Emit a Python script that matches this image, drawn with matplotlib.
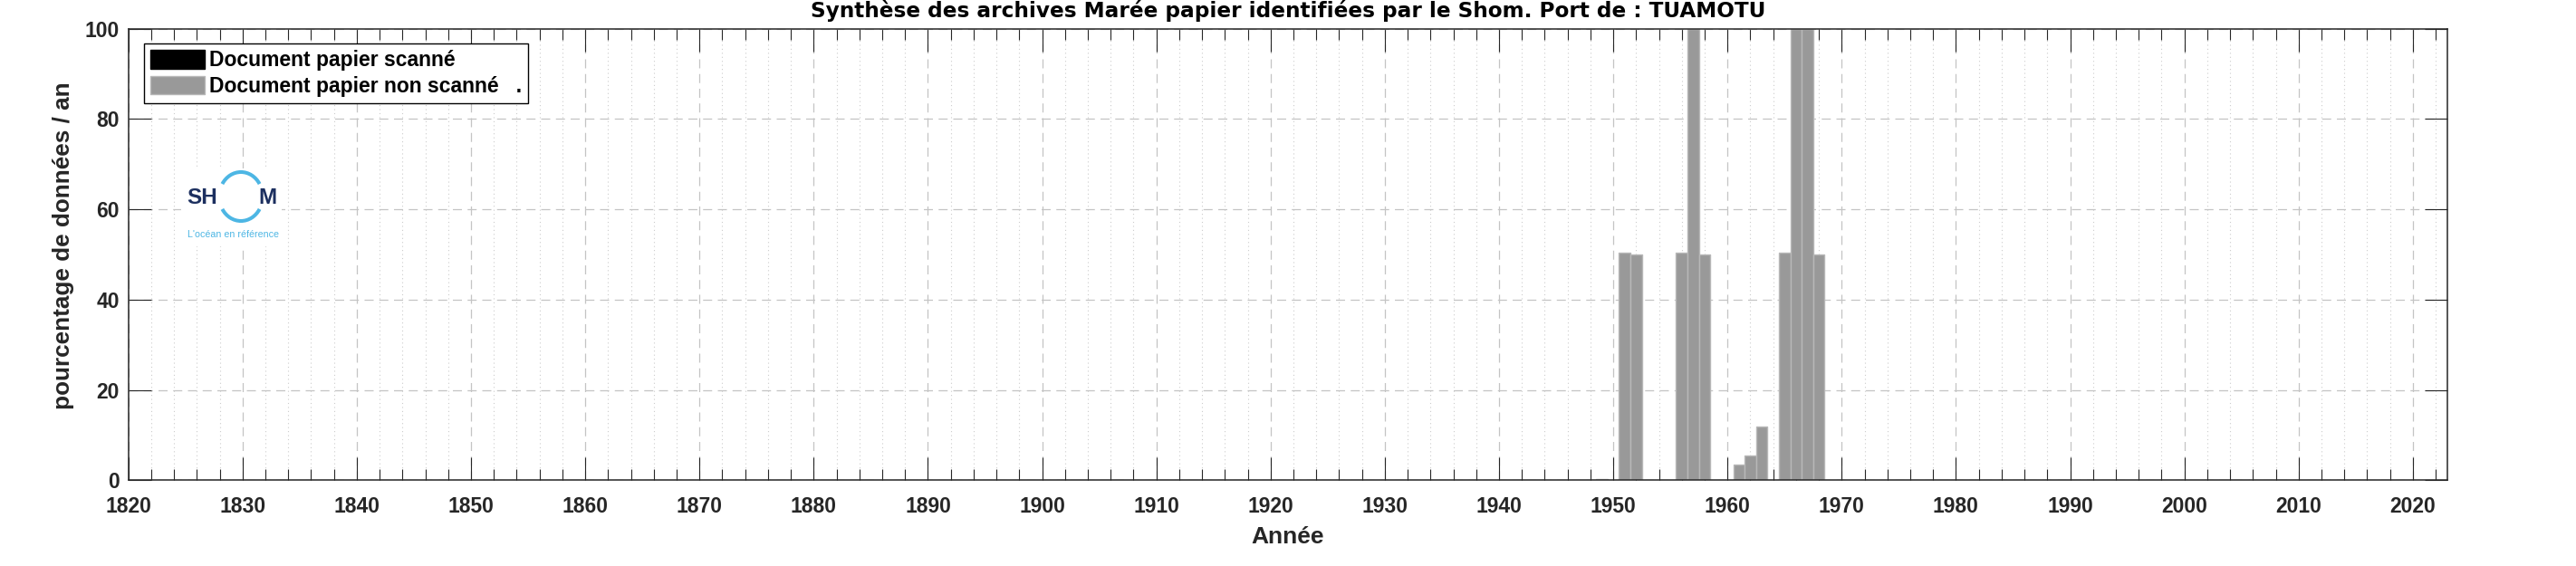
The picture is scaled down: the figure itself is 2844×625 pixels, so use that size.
import numpy as np
import matplotlib
matplotlib.use("Agg")
import matplotlib.pyplot as plt
from matplotlib.patches import Patch, Arc, Rectangle
from matplotlib.ticker import MultipleLocator

plt.rcParams["font.family"] = ["Liberation Sans", "DejaVu Sans"]

# data (percentage of data per year)
years = [1949, 1951, 1952, 1956, 1957, 1958, 1961, 1962, 1963, 1965, 1966, 1967, 1968]
non_scanne = [0.3, 50.4, 49.9, 50.4, 100, 49.9, 3.4, 5.4, 11.8, 50.4, 100, 100, 49.9]
scanne = [0, 0, 0, 0, 0, 0, 0, 0, 0, 0, 0, 0, 0]

titre = "Synthèse des archives Marée papier identifiées par le Shom. Port de : TUAMOTU"
legende = ["Document papier scanné", "Document papier non scanné   ."]

W, H = 2844, 625
fig = plt.figure(figsize=(W / 100, H / 100), dpi=100)
ax = fig.add_axes([141.7 / W, 1 - 530.3 / H, 2560 / W, 498.6 / H])

gray = "#999999"
tick_col = "#262626"

ax.bar(years, scanne, width=1.0, color="black", zorder=2)
ax.bar(years, non_scanne, bottom=scanne, width=1.0, color=gray,
       edgecolor="#b8b8b8", linewidth=1.0, zorder=2)

ax.set_xlim(1820, 2023)
ax.set_ylim(0, 100)
ax.xaxis.set_major_locator(MultipleLocator(10))
ax.xaxis.set_minor_locator(MultipleLocator(2))
ax.yaxis.set_major_locator(MultipleLocator(20))

ax.grid(True, which="major", linestyle=(0, (8, 5)), color="#c4c4c4", linewidth=0.9, zorder=0)
ax.grid(True, which="minor", axis="x", linestyle=(0, (1, 3)), color="#cccccc", linewidth=0.8, zorder=0)
ax.set_axisbelow(True)

ax.tick_params(which="both", direction="in", top=True, right=True, colors=tick_col,
               labelcolor=tick_col)
ax.tick_params(which="major", length=18, width=0.8, labelsize=16.5)
ax.tick_params(axis="x", which="major", pad=13)
ax.tick_params(axis="y", which="major", pad=7)
ax.tick_params(which="minor", length=8.5, width=0.8)
for lab in ax.get_xticklabels() + ax.get_yticklabels():
    lab.set_fontweight("bold")
for sp in ax.spines.values():
    sp.set_color(tick_col)
    sp.set_linewidth(1.1)

ax.set_title(titre, fontsize=16.7, fontweight="bold", color="black", pad=9,
             family=["DejaVu Sans"])
ax.set_xlabel("Année", fontsize=19, fontweight="bold", color=tick_col, labelpad=7)
ax.set_ylabel("pourcentage de données / an", fontsize=18.8, fontweight="bold",
              color=tick_col)
ax.yaxis.set_label_coords((82 - 141.7) / 2560, (530.3 - 271) / 498.6)

handles = [Patch(facecolor="black", edgecolor="black"),
           Patch(facecolor=gray, edgecolor="#b8b8b8")]
leg = ax.legend(handles, legende, loc="upper left", fontsize=16.5, frameon=True,
                fancybox=False, edgecolor="black", framealpha=1,
                bbox_to_anchor=(17.5 / 2560, 1 - 16.5 / 498.6),
                borderaxespad=0, handlelength=2.6, handleheight=1.0,
                handletextpad=0.25, labelspacing=0.25, borderpad=0.3)
leg.get_frame().set_linewidth(1.0)
for t in leg.get_texts():
    t.set_fontweight("bold")

# logo Shom
lx0, lx1, ly0, ly1 = 200, 311, 186, 272
logo = fig.add_axes([lx0 / W, 1 - ly1 / H, (lx1 - lx0) / W, (ly1 - ly0) / H])
logo.set_xlim(lx0, lx1)
logo.set_ylim(ly1, ly0)
logo.axis("off")
logo.add_patch(Rectangle((lx0, ly0), lx1 - lx0, ly1 - ly0, color="white", zorder=0))
navy = "#1c2f5f"
blue = "#4db6e4"
logo.text(223, 218, "SH", fontsize=17.5, fontweight="bold", color=navy,
          ha="center", va="center")
logo.text(295, 218, "M", fontsize=17.5, fontweight="bold", color=navy,
          ha="center", va="center")
logo.add_patch(Arc((266, 217), 48, 54, theta1=214, theta2=326, color=blue, lw=2.9))
logo.add_patch(Arc((266, 217), 48, 54, theta1=34, theta2=146, color=blue, lw=2.9))
logo.text(257.5, 259, "L'océan en référence", fontsize=7.7, color=blue,
          ha="center", va="center")

fig.savefig("out.png", dpi=100)
